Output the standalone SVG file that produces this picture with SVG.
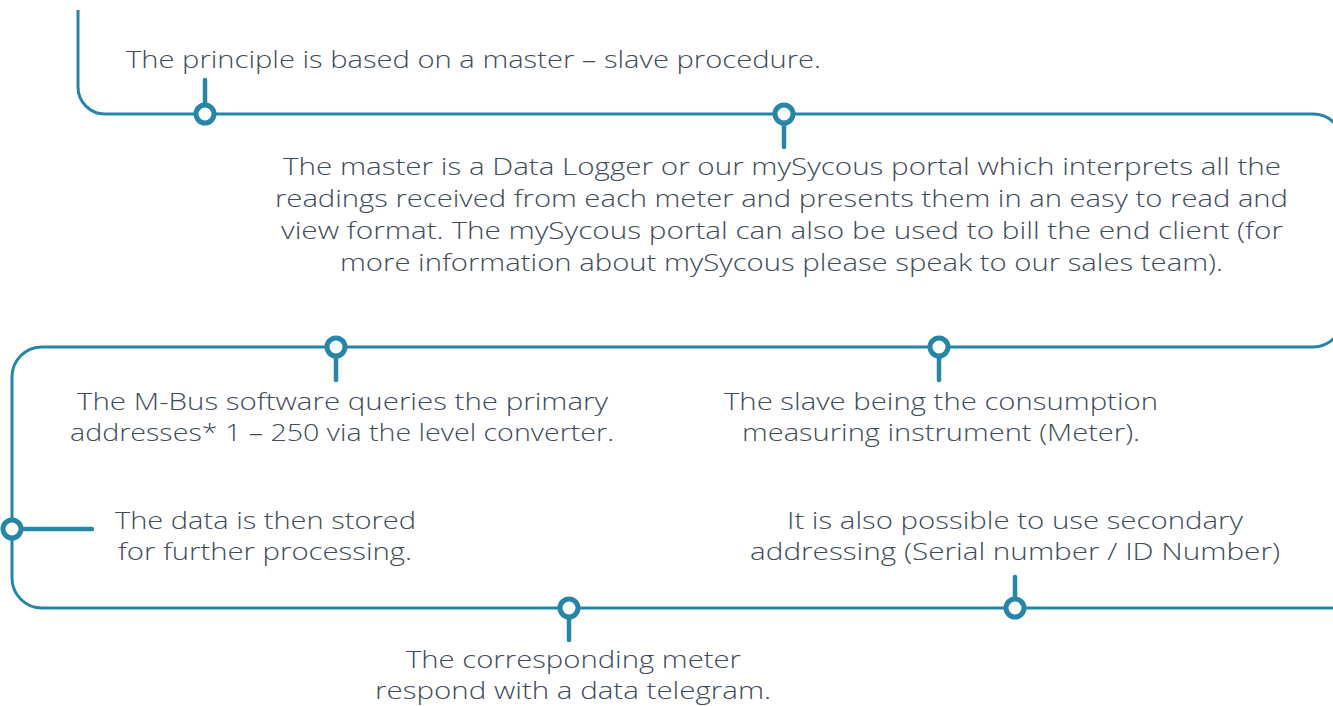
<svg xmlns="http://www.w3.org/2000/svg" width="1333" height="706" viewBox="0 0 1333 706">
<style>
.ln{fill:none;stroke:#2786a7;stroke-width:3}
.stk{stroke:#2786a7;stroke-width:4.5;stroke-linecap:round}
.dot{fill:#fff;stroke:#2786a7;stroke-width:5}
.t{font-family:"Open Sans","Liberation Sans",sans-serif;font-weight:300;font-size:24px;fill:#3e4b5b;text-anchor:middle}
</style>
<rect width="1333" height="706" fill="#fff"/>
<g id="connectors">
<path class="ln" d="M78,10 V87 A27,27 0 0 0 105,114 H1313 A30,30 0 0 1 1343,144 V317 A30,30 0 0 1 1313,347 H42 A30,30 0 0 0 12,377 V578 A30,30 0 0 0 42,608 H1340"/>
<line class="stk" x1="205" y1="80" x2="205" y2="106"/>
<line class="stk" x1="784" y1="122" x2="784" y2="147"/>
<line class="stk" x1="336" y1="355" x2="336" y2="380"/>
<line class="stk" x1="939" y1="355" x2="939" y2="380"/>
<line class="stk" x1="20" y1="529" x2="92" y2="529"/>
<line class="stk" x1="569" y1="616" x2="569" y2="640"/>
<line class="stk" x1="1015" y1="577" x2="1015" y2="600"/>
</g>
<g id="n1"><circle class="dot" cx="205" cy="114" r="9"/><text class="t" x="473.5" y="68" textLength="695" lengthAdjust="spacingAndGlyphs">The principle is based on a master – slave procedure.</text></g>
<g id="n2"><circle class="dot" cx="784" cy="114" r="9"/>
<text class="t" x="782" y="175" textLength="998" lengthAdjust="spacingAndGlyphs">The master is a Data Logger or our mySycous portal which interprets all the</text>
<text class="t" x="781.5" y="207" textLength="1013" lengthAdjust="spacingAndGlyphs">readings received from each meter and presents them in an easy to read and</text>
<text class="t" x="782" y="239" textLength="1002" lengthAdjust="spacingAndGlyphs">view format. The mySycous portal can also be used to bill the end client (for</text>
<text class="t" x="781.5" y="271" textLength="883" lengthAdjust="spacingAndGlyphs">more information about mySycous please speak to our sales team).</text></g>
<g id="n3"><circle class="dot" cx="336" cy="347" r="9"/>
<text class="t" x="342.5" y="410" textLength="531" lengthAdjust="spacingAndGlyphs">The M-Bus software queries the primary</text>
<text class="t" x="342" y="441" textLength="544" lengthAdjust="spacingAndGlyphs">addresses* 1 – 250 via the level converter.</text></g>
<g id="n4"><circle class="dot" cx="939" cy="347" r="9"/>
<text class="t" x="941" y="410" textLength="434" lengthAdjust="spacingAndGlyphs">The slave being the consumption</text>
<text class="t" x="941" y="441" textLength="398" lengthAdjust="spacingAndGlyphs">measuring instrument (Meter).</text></g>
<g id="n5"><circle class="dot" cx="12" cy="529" r="9"/>
<text class="t" x="265.5" y="529" textLength="301" lengthAdjust="spacingAndGlyphs">The data is then stored</text>
<text class="t" x="265" y="560" textLength="294" lengthAdjust="spacingAndGlyphs">for further processing.</text></g>
<g id="n6"><circle class="dot" cx="1015" cy="608" r="9"/>
<text class="t" x="1015" y="529" textLength="456" lengthAdjust="spacingAndGlyphs">It is also possible to use secondary</text>
<text class="t" x="1015" y="560" textLength="530" lengthAdjust="spacingAndGlyphs">addressing (Serial number / ID Number)</text></g>
<g id="n7"><circle class="dot" cx="569" cy="608" r="9"/>
<text class="t" x="573.5" y="668" textLength="335" lengthAdjust="spacingAndGlyphs">The corresponding meter</text>
<text class="t" x="573" y="699" textLength="396" lengthAdjust="spacingAndGlyphs">respond with a data telegram.</text></g>
</svg>
